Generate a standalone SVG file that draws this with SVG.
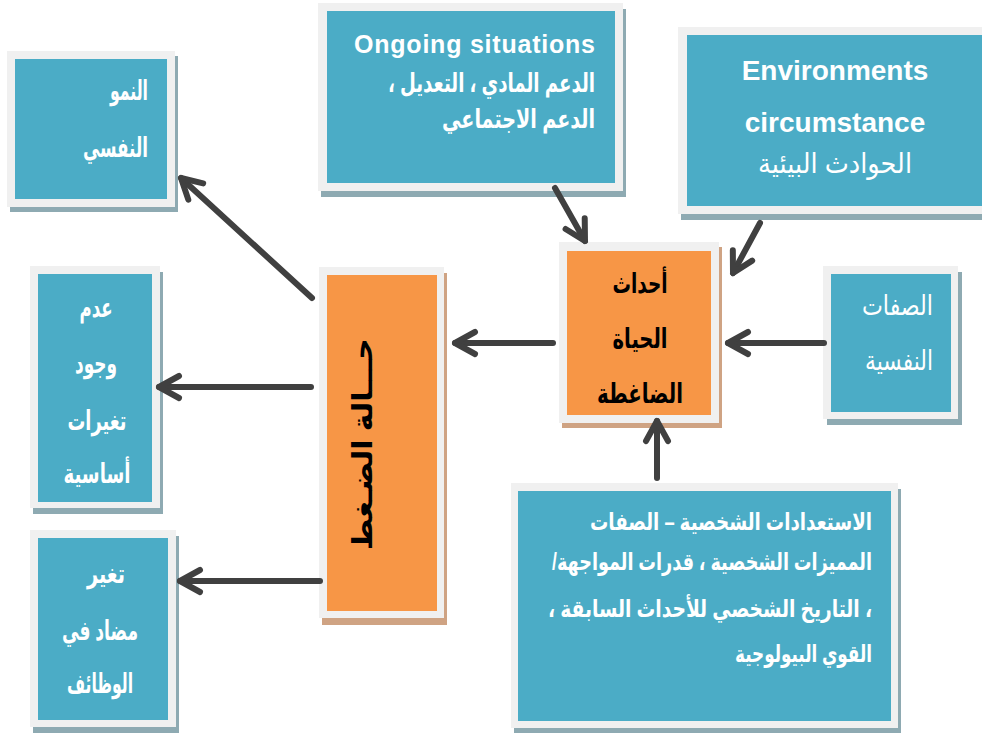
<svg xmlns="http://www.w3.org/2000/svg" width="982" height="733" viewBox="0 0 982 733">
  <defs>
    <style>
      .frame { fill: #f0f0f0; }
      .teal { fill: #4bacc6; }
      .tealShadow { fill: #8eaab2; }
      .orange { fill: #f79646; }
      .orangeShadow { fill: #cfa383; }
      .wt { fill: #ffffff; font-family: "Liberation Sans", "DejaVu Sans", sans-serif; font-weight: bold; font-size: 27px; }
      .reg { font-weight: normal; }
      .bk { fill: #000000; font-family: "Liberation Sans", "DejaVu Sans", sans-serif; font-weight: bold; font-size: 27px; }
      .conn { stroke: #404040; stroke-width: 6; fill: none; stroke-linecap: round; stroke-linejoin: round; }
    </style>
    <marker id="chev" markerUnits="userSpaceOnUse" viewBox="-26 -16 32 32" markerWidth="32" markerHeight="32" refX="0" refY="0" orient="auto">
      <path d="M-20,-11 L0,0 L-20,11" fill="none" stroke="#404040" stroke-width="6" stroke-linecap="round" stroke-linejoin="round"/>
    </marker>
  </defs>

  <rect width="982" height="733" fill="#ffffff"/>

  <!-- Psychological growth -->
  <g id="growth">
    <rect class="tealShadow" x="10" y="56" width="168" height="156"/>
    <rect class="frame" x="7" y="51" width="168" height="156"/>
    <rect class="teal" x="15" y="59" width="152" height="140"/>
    <text class="wt" direction="rtl" text-anchor="start" x="148" y="100" textLength="38" lengthAdjust="spacingAndGlyphs">النمو</text>
    <text class="wt" direction="rtl" text-anchor="start" x="148" y="157" textLength="65" lengthAdjust="spacingAndGlyphs">النفسي</text>
  </g>

  <!-- Ongoing situations -->
  <g id="ongoing">
    <rect class="tealShadow" x="321" y="9" width="305" height="188"/>
    <rect class="frame" x="318" y="3" width="305" height="188"/>
    <rect class="teal" x="327" y="11" width="288" height="172"/>
    <text class="wt" text-anchor="end" x="595" y="53" style="font-size:25px" textLength="241" lengthAdjust="spacing">Ongoing situations</text>
    <text class="wt" direction="rtl" text-anchor="start" x="595" y="92" style="font-size:26px" textLength="207" lengthAdjust="spacingAndGlyphs">الدعم المادي ، التعديل ،</text>
    <text class="wt" direction="rtl" text-anchor="start" x="595" y="128" style="font-size:26px" textLength="153" lengthAdjust="spacingAndGlyphs">الدعم الاجتماعي</text>
  </g>

  <!-- Environmental circumstances -->
  <g id="environment">
    <rect class="tealShadow" x="681" y="33" width="320" height="187"/>
    <rect class="frame" x="678" y="27" width="320" height="187"/>
    <rect class="teal" x="687" y="35" width="300" height="171"/>
    <text class="wt" text-anchor="middle" x="835" y="80" style="font-size:28px">Environments</text>
    <text class="wt" text-anchor="middle" x="835" y="132" style="font-size:28px">circumstance</text>
    <text class="wt reg" direction="rtl" text-anchor="middle" x="835" y="173" style="font-size:28px" textLength="154" lengthAdjust="spacingAndGlyphs">الحوادث البيئية</text>
  </g>

  <!-- Stressful life events -->
  <g id="events">
    <rect class="orangeShadow" x="562" y="247" width="160" height="181"/>
    <rect class="frame" x="559" y="242" width="160" height="181"/>
    <rect class="orange" x="567" y="251" width="144" height="164"/>
    <text class="bk" direction="rtl" text-anchor="middle" x="640" y="293" textLength="55" lengthAdjust="spacingAndGlyphs">أحداث</text>
    <text class="bk" direction="rtl" text-anchor="middle" x="640" y="348" textLength="55" lengthAdjust="spacingAndGlyphs">الحياة</text>
    <text class="bk" direction="rtl" text-anchor="middle" x="640" y="403" textLength="86" lengthAdjust="spacingAndGlyphs">الضاغطة</text>
  </g>

  <!-- Stress state -->
  <g id="stress">
    <rect class="orangeShadow" x="322" y="273" width="125" height="352"/>
    <rect class="frame" x="319" y="267" width="125" height="351"/>
    <rect class="orange" x="327" y="275" width="110" height="336"/>
    <text class="bk" direction="rtl" text-anchor="middle" style="font-size:28px" transform="translate(372 444) rotate(-90)" textLength="212" lengthAdjust="spacingAndGlyphs">حـــالة الضـغط</text>
  </g>

  <!-- Psychological traits -->
  <g id="traits">
    <rect class="tealShadow" x="827" y="272" width="135" height="153"/>
    <rect class="frame" x="823" y="266" width="135" height="153"/>
    <rect class="teal" x="831" y="274" width="120" height="138"/>
    <text class="wt reg" direction="rtl" text-anchor="start" x="933" y="315" textLength="71" lengthAdjust="spacingAndGlyphs">الصفات</text>
    <text class="wt reg" direction="rtl" text-anchor="start" x="933" y="370" textLength="68" lengthAdjust="spacingAndGlyphs">النفسية</text>
  </g>

  <!-- Personal dispositions -->
  <g id="dispositions">
    <rect class="tealShadow" x="514" y="489" width="387" height="245"/>
    <rect class="frame" x="511" y="483" width="387" height="245"/>
    <rect class="teal" x="518" y="491" width="373" height="230"/>
    <text class="wt" direction="rtl" text-anchor="start" x="872" y="530" style="font-size:24px" textLength="282" lengthAdjust="spacingAndGlyphs">الاستعدادات الشخصية – الصفات</text>
    <text class="wt" direction="rtl" text-anchor="start" x="872" y="570" style="font-size:24px" textLength="320" lengthAdjust="spacingAndGlyphs">المميزات الشخصية ، قدرات المواجهة/</text>
    <text class="wt" direction="rtl" text-anchor="start" x="872" y="617" style="font-size:24px" textLength="324" lengthAdjust="spacingAndGlyphs">، التاريخ الشخصي للأحداث السابقة ،</text>
    <text class="wt" direction="rtl" text-anchor="start" x="872" y="662" style="font-size:24px" textLength="137" lengthAdjust="spacingAndGlyphs">القوي البيولوجية</text>
  </g>

  <!-- No basic changes -->
  <g id="no-change">
    <rect class="tealShadow" x="33" y="272" width="130" height="242"/>
    <rect class="frame" x="30" y="266" width="130" height="242"/>
    <rect class="teal" x="38" y="274" width="114" height="228"/>
    <text class="wt" direction="rtl" text-anchor="middle" x="96" y="317" textLength="33" lengthAdjust="spacingAndGlyphs">عدم</text>
    <text class="wt" direction="rtl" text-anchor="middle" x="96" y="373" textLength="42" lengthAdjust="spacingAndGlyphs">وجود</text>
    <text class="wt" direction="rtl" text-anchor="middle" x="97" y="430" textLength="59" lengthAdjust="spacingAndGlyphs">تغيرات</text>
    <text class="wt" direction="rtl" text-anchor="middle" x="97" y="483" textLength="67" lengthAdjust="spacingAndGlyphs">أساسية</text>
  </g>

  <!-- Counter change in functions -->
  <g id="counter-change">
    <rect class="tealShadow" x="33" y="536" width="146" height="197"/>
    <rect class="frame" x="30" y="530" width="146" height="197"/>
    <rect class="teal" x="38" y="538" width="130" height="182"/>
    <text class="wt" direction="rtl" text-anchor="middle" x="106" y="583" textLength="38" lengthAdjust="spacingAndGlyphs">تغير</text>
    <text class="wt" direction="rtl" text-anchor="middle" x="100" y="640" textLength="76" lengthAdjust="spacingAndGlyphs">مضاد في</text>
    <text class="wt" direction="rtl" text-anchor="middle" x="100" y="693" textLength="66" lengthAdjust="spacingAndGlyphs">الوظائف</text>
  </g>

  <!-- Connectors -->
  <g id="connectors">
    <line class="conn" x1="312" y1="298" x2="181" y2="178" marker-end="url(#chev)"/>
    <line class="conn" x1="311" y1="387" x2="159" y2="387" marker-end="url(#chev)"/>
    <line class="conn" x1="320" y1="581" x2="180" y2="581" marker-end="url(#chev)"/>
    <line class="conn" x1="553" y1="343" x2="455" y2="343" marker-end="url(#chev)"/>
    <line class="conn" x1="555" y1="188" x2="585" y2="241" marker-end="url(#chev)"/>
    <line class="conn" x1="760" y1="223" x2="733" y2="273" marker-end="url(#chev)"/>
    <line class="conn" x1="824" y1="343" x2="728" y2="343" marker-end="url(#chev)"/>
    <line class="conn" x1="657" y1="478" x2="657" y2="421" marker-end="url(#chev)"/>
  </g>
</svg>
